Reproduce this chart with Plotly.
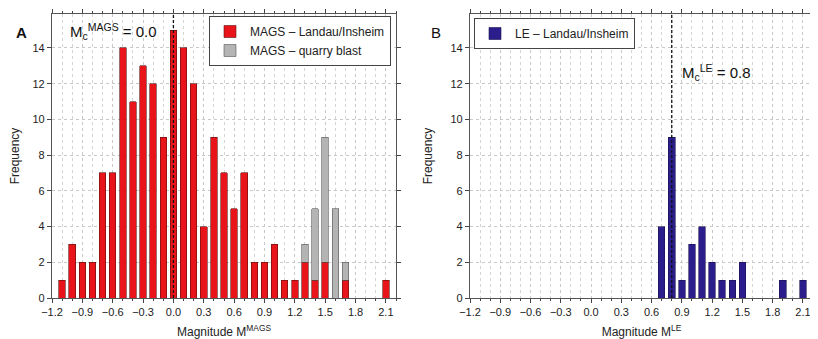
import plotly.graph_objects as go
from plotly.subplots import make_subplots

# magnitude bins (0.1 wide)
mag_bins = [round(-1.1 + 0.1 * i, 1) for i in range(33)]

mags_landau = [1, 3, 2, 2, 7, 7, 14, 11, 13, 12, 9, 15, 14, 12, 4, 9, 7, 5, 7,
               2, 2, 3, 1, 1, 2, 1, 2, 0, 1, 0, 0, 0, 1]
mags_quarry = [0, 0, 0, 0, 0, 0, 0, 0, 0, 0, 0, 0, 0, 0, 0, 0, 0, 0, 0,
               0, 0, 0, 0, 0, 1, 4, 7, 5, 1, 0, 0, 0, 0]
le_landau = [0, 0, 0, 0, 0, 0, 0, 0, 0, 0, 0, 0, 0, 0, 0, 0, 0, 0, 4,
             9, 1, 3, 4, 2, 1, 1, 2, 0, 0, 0, 1, 0, 1]

mc_mags = 0.0
mc_le = 0.8

x_ticks = [-1.2, -0.9, -0.6, -0.3, 0.0, 0.3, 0.6, 0.9, 1.2, 1.5, 1.8, 2.1]
y_ticks = [0, 2, 4, 6, 8, 10, 12, 14]

RED = "#e8141a"
GREY = "#b4b4b4"
BLUE = "#2b1d8c"

# the page body has an 8px margin, so the figure is drawn 8px in from the corner
OFF = 8
W, H = 818 - OFF, 339 - OFF


def px(x):
    return (x - OFF) / W


def py(y):
    return 1 - (y - OFF) / H


def nonzero(xs, ys):
    # empty bins are not drawn (avoid outline stubs on the axis)
    pairs = [(x, y) for x, y in zip(xs, ys) if y > 0]
    return [p[0] for p in pairs], [p[1] for p in pairs]


fig = make_subplots(rows=1, cols=2)

x, y = nonzero(mag_bins, mags_landau)
fig.add_trace(go.Bar(x=x, y=y, name="MAGS – Landau/Insheim",
                     marker=dict(color=RED, line=dict(color="#5a1010", width=0.6)),
                     width=0.065, legend="legend"), row=1, col=1)
x, y = nonzero(mag_bins, mags_quarry)
fig.add_trace(go.Bar(x=x, y=y, name="MAGS – quarry blast",
                     marker=dict(color=GREY, line=dict(color="#555555", width=0.6)),
                     width=0.065, legend="legend"), row=1, col=1)
x, y = nonzero(mag_bins, le_landau)
fig.add_trace(go.Bar(x=x, y=y, name="LE – Landau/Insheim",
                     marker=dict(color=BLUE, line=dict(color="#1a1050", width=0.6)),
                     width=0.065, legend="legend2"), row=1, col=2)

axis_font = dict(family="Liberation Sans, Arial, sans-serif", size=11, color="#222")

for ax, dom in [("xaxis", [px(52), px(396)]), ("xaxis2", [px(470), px(813)])]:
    fig.layout[ax].update(
        domain=dom, range=[-1.2, 2.2], tickvals=x_ticks, tickformat=".1f",
        ticks="outside", ticklen=4, mirror="ticks", showline=True,
        linecolor="#555", linewidth=1.2, tickfont=axis_font, automargin=False,
        showgrid=True, gridcolor="#c8c8c8", griddash="dot", gridwidth=1,
        minor=dict(dtick=0.1, tick0=-1.2, showgrid=True, gridcolor="#d4d4d4",
                   griddash="dot", ticks="outside", ticklen=2),
        zeroline=False,
    )

for ax in ["yaxis", "yaxis2"]:
    fig.layout[ax].update(
        domain=[py(298), py(14)], range=[0, 15.9], tickvals=y_ticks,
        ticks="outside", ticklen=4, mirror="ticks", showline=True,
        linecolor="#555", linewidth=1.2, tickfont=axis_font, automargin=False,
        showgrid=True, gridcolor="#c8c8c8", griddash="dot", zeroline=False,
    )

title_font = dict(family="Liberation Sans, Arial, sans-serif", size=12, color="#222")
fig.update_xaxes(title_text="Magnitude M<sup>MAGS</sup>", title_font=title_font, row=1, col=1)
fig.update_xaxes(title_text="Magnitude M<sup>LE</sup>", title_font=title_font, row=1, col=2)
fig.update_yaxes(title_text="Frequency", title_font=title_font, row=1, col=1)
fig.update_yaxes(title_text="Frequency", title_font=title_font, row=1, col=2)

# completeness magnitude markers
fig.add_shape(type="line", xref="x", yref="y domain", x0=mc_mags, x1=mc_mags,
              y0=0, y1=1, line=dict(color="#111", width=1.3, dash="3px,2px"))
fig.add_shape(type="line", xref="x2", yref="y2 domain", x0=mc_le, x1=mc_le,
              y0=0, y1=1, line=dict(color="#111", width=1.3, dash="3px,2px"))

lab_font = dict(family="Liberation Sans, Arial, sans-serif", size=15, color="#111")
fig.add_annotation(text="M<sub>c</sub><sup>MAGS</sup> = %.1f" % mc_mags,
                   xref="x", yref="y", x=-1.04, y=14.9, xanchor="left",
                   showarrow=False, font=lab_font)
fig.add_annotation(text="M<sub>c</sub><sup>LE</sup> = %.1f" % mc_le,
                   xref="x2", yref="y2", x=mc_le + 0.08, y=12.6, xanchor="left",
                   showarrow=False, font=lab_font)
fig.add_annotation(text="<b>A</b>", xref="paper", yref="paper", x=px(14),
                   y=py(22), showarrow=False,
                   font=dict(size=15, family="Liberation Sans, Arial", color="#111"))
fig.add_annotation(text="B", xref="paper", yref="paper", x=px(436),
                   y=py(22), showarrow=False,
                   font=dict(size=15, family="Liberation Sans, Arial", color="#111"))

leg_font = dict(family="Liberation Sans, Arial, sans-serif", size=12, color="#222")
fig.update_layout(
    width=W, height=H,
    margin=dict(l=0, r=0, t=0, b=0),
    paper_bgcolor="white", plot_bgcolor="white",
    barmode="stack",
    legend=dict(x=px(391), y=py(16), xanchor="right", yanchor="top",
                bordercolor="#444", borderwidth=1, bgcolor="white",
                font=leg_font, traceorder="normal", tracegroupgap=0,
                itemwidth=30),
    legend2=dict(x=px(474), y=py(18), xanchor="left", yanchor="top",
                 bordercolor="#444", borderwidth=1, bgcolor="white",
                 font=leg_font, itemwidth=30),
)

fig.write_html("out.html")
